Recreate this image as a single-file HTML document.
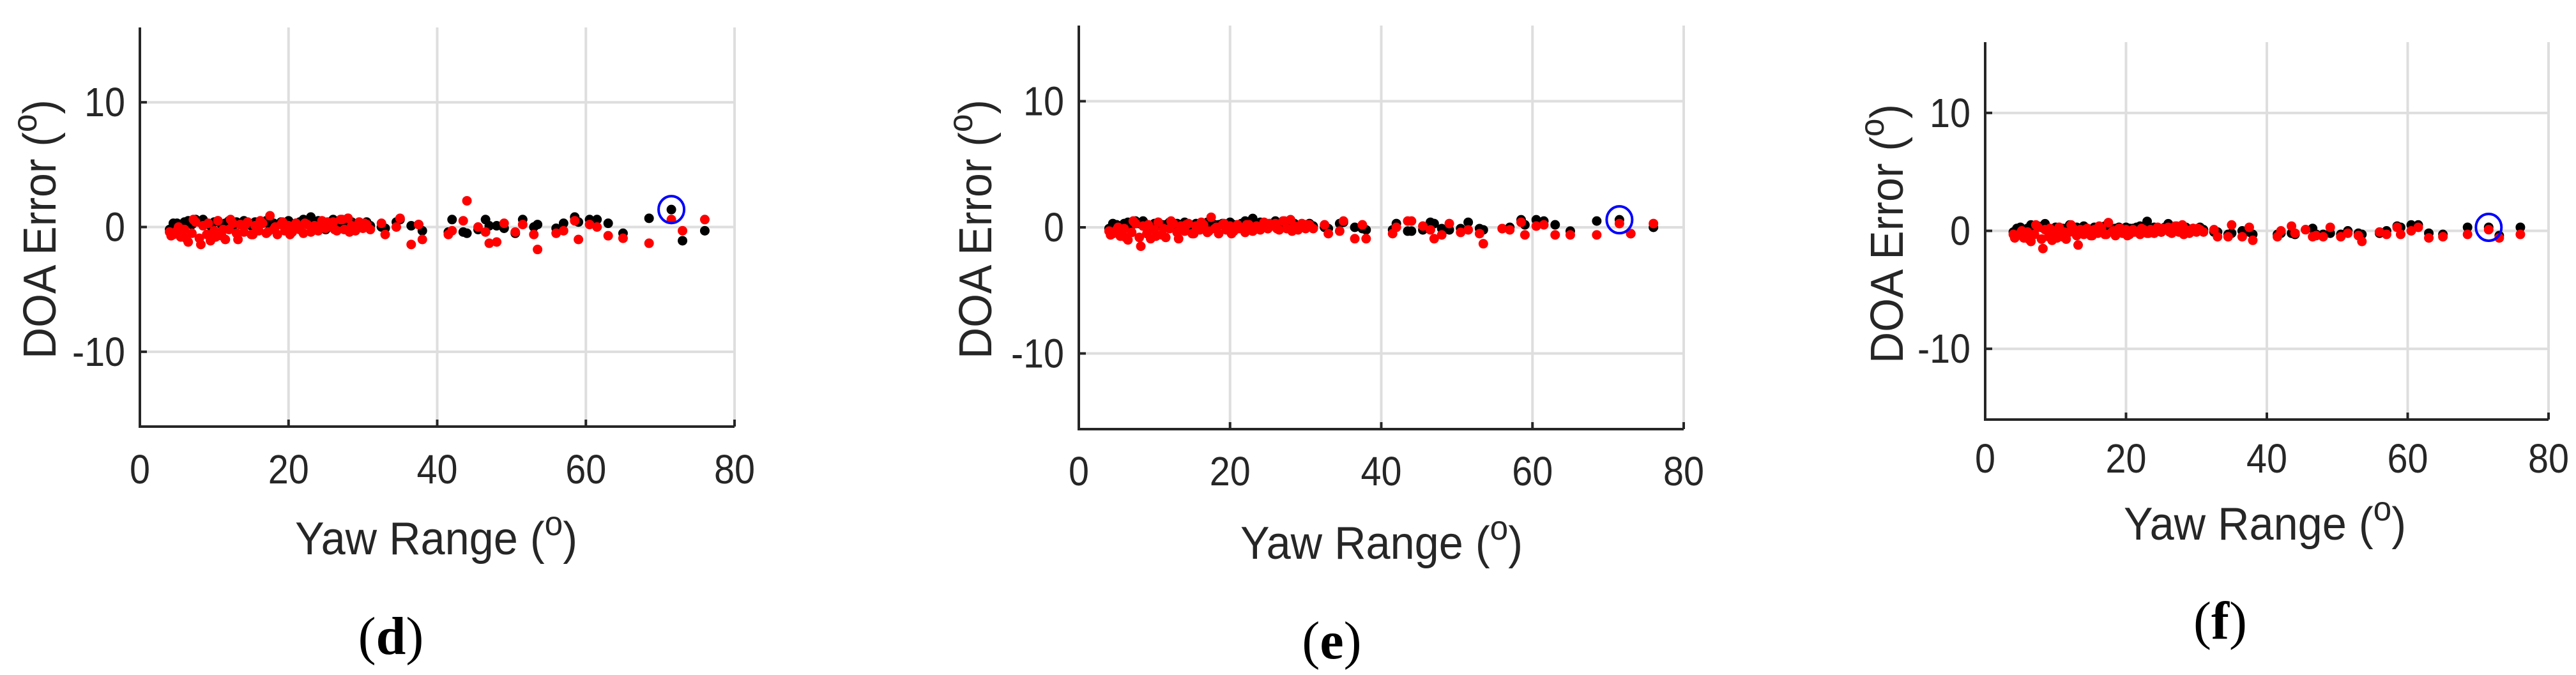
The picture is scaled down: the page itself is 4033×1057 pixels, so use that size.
<!DOCTYPE html>
<html><head><meta charset="utf-8"><style>
html,body{margin:0;padding:0;background:#fff;}
svg{display:block;}
</style></head><body>
<svg id="fig" width="4033" height="1057" viewBox="0 0 4033 1057" xmlns="http://www.w3.org/2000/svg"></svg>
<script>
const xTicks=[0,20,40,60,80];
const yTicks=[-10,0,10];
const xsDense=[4,4.5,5,5.5,6,6.5,7,7.5,8,8.5,9,9.5,10,10.5,11,11.5,12,12.5,13,13.5,14,14.5,15,15.5,16,16.5,17,17.5,18,18.5,19,19.5,20,20.5,21,21.5,22,22.5,23,23.5,24,24.5,25,25.5,26,26.5,27,27.5,28,28.5,29,29.5,30,30.5,31];
const xsExtra=[4.2,5.2,6.2,7.2,8.2,9.2,10.2,11.2,12.2,13.2,14.2,15.2,16.2,17.2,18.2,19.2,20.2,21.2,22.2,23.2,24.2,25.2,26.2,27.2,28.2,29.2,30.2];
const xsSparse=[32.5,33,34.5,35,36.5,37.5,38,41.5,42,43.5,44,45.5,46.5,47,48,49,50.5,51.5,53,53.5,56,57,58.5,59,60.5,61.5,63,65,68.5,71.5,73,76];
const circledX=71.5;

const dBlackDense=[-0.2,0.3,0.3,0.1,0.4,0.5,0.2,0.6,0.4,0.6,0.3,0.1,0.4,0.5,0.2,0.3,0.5,0.1,0.4,0.2,0.5,0.3,0.1,0.4,0.2,0.3,0.5,0.1,0.3,0.2,0.4,0.1,0.5,0.2,0.3,0.4,0.6,0.3,0.8,0.2,0.5,0.1,-0.2,0.4,0.6,0.3,0.5,0.2,0.7,0.4,0.1,0.3,0.2,0.4,0.1];
const dRedDense=[-0.4,-0.6,-0.3,-0.8,-0.2,-1.2,-0.5,0.4,-0.9,0.1,-0.6,-1.1,-0.3,0.5,-0.7,-1.0,-0.2,0.3,-0.5,0.2,-0.4,0.4,-0.6,0.1,-0.3,0.3,-0.5,0.9,-0.2,-0.6,0.2,-0.3,0.1,-0.4,0.3,-0.2,-0.5,0.2,-0.4,0.1,-0.3,0.5,-0.1,0.2,0.4,-0.3,0.6,-0.2,0.7,0.1,-0.3,0.4,-0.1,0.2,-0.2];
const dRedExtra=[-0.7,0,-0.9,0.6,-1.4,0.3,-0.8,-0.2,0.6,-1.0,0.2,-0.6,0.5,-0.4,0,0.4,-0.6,-0.1,0.3,-0.3,0,0.4,-0.2,0.6,-0.4,0,0.3];
const dBlackSparse=[0.0,-0.1,0.4,0.6,0.1,0.2,-0.3,-0.4,0.6,-0.4,-0.5,-0.2,0.6,0.1,0.1,-0.1,-0.5,0.6,0.0,0.2,-0.1,0.3,0.8,0.4,0.6,0.6,0.3,-0.5,0.7,1.4,-1.1,-0.3];
const dRedSparse=[0.3,-0.6,0.0,0.7,-1.4,0.2,-1.0,-0.6,-0.3,0.5,2.1,0.0,-0.4,-1.3,-1.2,0.3,-0.4,0.2,-0.6,-1.8,-0.5,-0.3,0.5,-1.0,0.2,0.0,-0.7,-0.9,-1.3,0.6,-0.3,0.6];

const eBlackDense=[-0.1,0.3,0.2,0.1,0.3,0.4,0.2,0.5,0.3,0.5,0.2,0.1,0.3,0.4,0.2,0.2,0.4,0.1,0.3,0.2,0.4,0.2,0.1,0.3,0.2,0.2,0.4,0.1,0.2,0.2,0.3,0.1,0.4,0.2,0.2,0.3,0.5,0.2,0.7,0.2,0.4,0.1,-0.1,0.3,0.5,0.2,0.4,0.2,0.6,0.3,0.1,0.2,0.2,0.3,0.1];
const eRedDense=[-0.3,-0.5,-0.2,-0.7,-0.1,-1.0,-0.4,0.3,-0.8,0.1,-0.5,-0.9,-0.2,0.4,-0.6,-0.8,-0.1,0.3,-0.4,0.1,-0.3,0.3,-0.5,0.1,-0.2,0.2,-0.4,0.8,-0.1,-0.5,0.2,-0.2,0.1,-0.3,0.2,-0.1,-0.4,0.2,-0.3,0.1,-0.2,0.4,-0.1,0.2,0.3,-0.2,0.5,-0.1,0.6,0.1,-0.2,0.3,-0.1,0.2,-0.1];
const eRedExtra=[-0.6,0,-0.8,0.5,-1.5,0.2,-0.7,-0.1,0.5,-0.9,0.2,-0.5,0.4,-0.3,0,0.3,-0.5,-0.1,0.2,-0.2,0,0.3,-0.1,0.5,-0.3,0,0.2];
const eBlackSparse=[0.0,-0.1,0.3,0.4,0.0,-0.1,-0.2,-0.2,0.3,-0.3,-0.3,-0.2,0.4,0.3,-0.1,-0.2,-0.1,0.4,-0.1,-0.2,-0.1,0.0,0.6,0.2,0.6,0.5,0.2,-0.3,0.5,0.6,-0.5,0.0];
const eRedSparse=[0.2,-0.5,-0.3,0.5,-0.9,0.2,-0.9,-0.5,0.0,0.5,0.5,0.1,-0.2,-0.9,-0.6,0.3,-0.4,-0.2,-0.5,-1.3,-0.1,-0.2,0.4,-0.6,0.1,0.2,-0.6,-0.6,-0.6,0.3,-0.5,0.3];

const fBlackDense=[-0.1,0.2,0.3,0.1,0.2,0.5,0.2,0.4,0.3,0.6,0.2,0.1,0.3,0.3,0.2,0.2,0.5,0.1,0.3,0.1,0.4,0.2,0.1,0.3,0.2,0.3,0.4,0.1,0.2,0.2,0.3,0.1,0.3,0.2,0.2,0.3,0.4,0.2,0.8,0.2,0.3,0.1,-0.1,0.3,0.6,0.2,0.3,0.2,0.4,0.3,0.1,0.2,0.1,0.3,0.1];
const fRedDense=[-0.3,-0.4,-0.2,-0.6,-0.1,-0.9,-0.3,0.3,-0.7,0.1,-0.5,-0.8,-0.2,0.3,-0.5,-0.7,-0.1,0.2,-0.4,0.1,-0.3,0.2,-0.4,0.1,-0.2,0.2,-0.3,0.7,-0.1,-0.4,0.2,-0.2,0.1,-0.3,0.1,-0.1,-0.3,0.1,-0.2,0.1,-0.2,0.3,-0.1,0.1,0.3,-0.2,0.4,-0.1,0.5,0.1,-0.2,0.2,-0.1,0.1,-0.1];
const fRedExtra=[-0.6,0,-0.7,0.5,-1.5,0.2,-0.6,-0.1,0.5,-1.2,0.1,-0.4,0.4,-0.3,0,0.2,-0.4,-0.1,0.2,-0.2,0,0.2,-0.1,0.4,-0.3,0,0.2];
const fBlackSparse=[-0.1,-0.1,-0.3,-0.2,0.0,-0.1,-0.3,-0.3,-0.2,-0.2,-0.3,0.1,0.2,-0.3,-0.3,-0.2,-0.3,0.0,-0.2,-0.3,-0.2,0.0,0.4,0.3,0.5,0.5,-0.2,-0.3,0.3,0.3,-0.4,0.3];
const fRedSparse=[0.1,-0.5,-0.5,0.5,-0.5,0.3,-0.8,-0.5,0.0,0.4,-0.2,0.1,-0.5,-0.4,-0.5,0.3,-0.5,-0.2,-0.4,-0.9,-0.1,-0.3,0.3,-0.3,0.0,0.3,-0.6,-0.5,-0.3,0.1,-0.6,-0.3];

const NS='http://www.w3.org/2000/svg';
const fig=document.getElementById('fig');
function mk(tag,attrs,parent){const e=document.createElementNS(NS,tag);for(const k in attrs)e.setAttribute(k,attrs[k]);(parent||fig).appendChild(e);return e;}

const panels=[
 {id:'d',L:219,R:1150,T:43,B:668,tickY:735,xlabX:683,xlabY:843,capX:612,capY:996,ylabX:62,ylabY:359,
  bd:dBlackDense,rd:dRedDense,re:dRedExtra,bs:dBlackSparse,rs:dRedSparse},
 {id:'e',L:1689,R:2636,T:40,B:672,tickY:738,xlabX:2163,xlabY:850,capX:2085,capY:1003,ylabX:1527,ylabY:359,
  bd:eBlackDense,rd:eRedDense,re:eRedExtra,bs:eBlackSparse,rs:eRedSparse},
 {id:'f',L:3108,R:3990,T:66,B:657,tickY:718,xlabX:3546,xlabY:820,capX:3476,capY:972,ylabX:2954,ylabY:366,
  bd:fBlackDense,rd:fRedDense,re:fRedExtra,bs:fBlackSparse,rs:fRedSparse}
];

const FONT='"Liberation Sans", Arial, sans-serif';
panels.forEach(p=>{
  const g=mk('g',{});
  
  
  const sx=v=>p.L+(v-0)/(80-0)*(p.R-p.L);
  const sy=v=>p.B-(v+16)/32*(p.B-p.T);
  xTicks.forEach(t=>{ if(t===0)return;
    const l=mk('line',{x1:sx(t),x2:sx(t),y1:p.T,y2:p.B,stroke:'#dedede','stroke-width':4},g);
    
    
  });
  yTicks.forEach(t=>{
    const l=mk('line',{x1:p.L,x2:p.R,y1:sy(t),y2:sy(t),stroke:'#dedede','stroke-width':4},g);
    
    
  });
  const r=7.5;
  const pts=mk('g',{},g);
  
  
  function dot(x,y,c){
    const d=mk('circle',{cx:sx(x),cy:sy(y),r:r,fill:c},pts);
    
    
  }
  xsDense.forEach((x,i)=>dot(x,p.bd[i],'#000'));
  xsSparse.forEach((x,i)=>dot(x,p.bs[i],'#000'));
  xsDense.forEach((x,i)=>dot(x,p.rd[i],'#f00'));
  xsExtra.forEach((x,i)=>dot(x,p.re[i],'#f00'));
  xsSparse.forEach((x,i)=>dot(x,p.rs[i],'#f00'));
  const ci=xsSparse.indexOf(circledX);
  const bc=mk('ellipse',{cx:sx(circledX),cy:sy(p.bs[ci]),rx:20,ry:21,fill:'none',stroke:'#0000ff','stroke-width':4},g);
  
  
  const ax=mk('path',{d:`M${p.L},${p.T} L${p.L},${p.B} L${p.R},${p.B}`,fill:'none',stroke:'#262626','stroke-width':4},g);
  
  
  xTicks.forEach(t=>{
    const tk=mk('line',{x1:sx(t),x2:sx(t),y1:p.B,y2:p.B-11,stroke:'#262626','stroke-width':4},g);
    
    
    const s=String(t);
    const tx=mk('text',{x:sx(t),y:p.tickY+22,'text-anchor':'middle','font-family':FONT,'font-size':64,fill:'#262626',textLength:s.length*32,lengthAdjust:'spacingAndGlyphs'},g);
    tx.textContent=s;
    
    
  });
  yTicks.forEach(t=>{
    const tk=mk('line',{x1:p.L,x2:p.L+11,y1:sy(t),y2:sy(t),stroke:'#262626','stroke-width':4},g);
    
    
    const s=String(t);
    const w=(t<0?19:0)+String(Math.abs(t)).length*32;
    const tx=mk('text',{x:p.L-23,y:sy(t)+22,'text-anchor':'end','font-family':FONT,'font-size':64,fill:'#262626',textLength:w,lengthAdjust:'spacingAndGlyphs'},g);
    tx.textContent=s;
    
    
  });
  const xl=mk('text',{x:p.xlabX,y:p.xlabY+25,'text-anchor':'middle','font-family':FONT,'font-size':72,fill:'#262626',textLength:442,lengthAdjust:'spacingAndGlyphs'},g);
  xl.innerHTML='Yaw Range (<tspan dy="-30" font-size="54">o</tspan><tspan dy="30">)</tspan>';
  
  
  const yl=mk('text',{x:0,y:0,'text-anchor':'middle','font-family':FONT,'font-size':72,fill:'#262626',textLength:406,lengthAdjust:'spacingAndGlyphs',transform:`translate(${p.ylabX+25},${p.ylabY}) rotate(-90)`},g);
  yl.innerHTML='DOA Error (<tspan dy="-30" font-size="54">o</tspan><tspan dy="30">)</tspan>';
  
  
  const cp=mk('text',{x:p.capX,y:p.capY+28,'text-anchor':'middle','font-family':'"Liberation Serif", serif','font-size':84,fill:'#000'},g);
  cp.innerHTML='(<tspan font-weight="bold">'+p.id+'</tspan>)';
  
  
});
</script>
</body></html>
